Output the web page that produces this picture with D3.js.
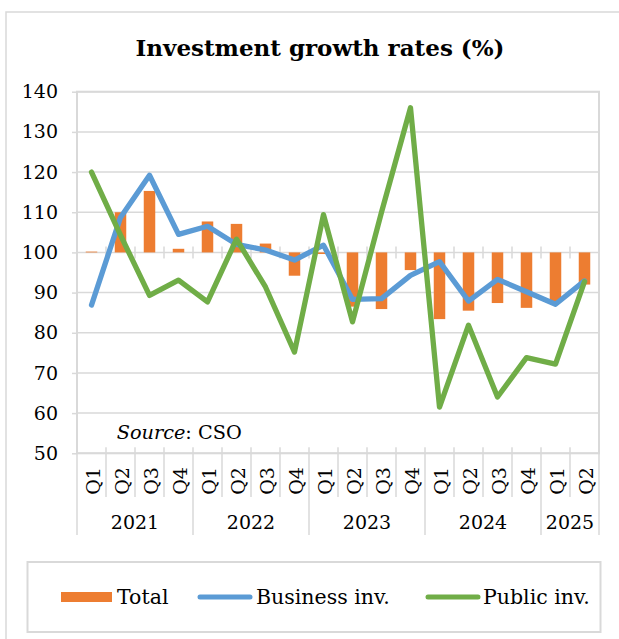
<!DOCTYPE html>
<html>
<head>
<meta charset="utf-8">
<script src="https://cdn.jsdelivr.net/npm/d3@7"></script>
<style>
  html, body { margin: 0; padding: 0; background: #fff; }
  svg { display: block; }
  text { font-family: "DejaVu Serif", serif; fill: #000; }
</style>
</head>
<body>
<div id="chart"></div>
<script>
// Quarterly investment growth rates, index form (previous year = 100)
const quarters = ["Q1","Q2","Q3","Q4","Q1","Q2","Q3","Q4","Q1","Q2","Q3","Q4","Q1","Q2","Q3","Q4","Q1","Q2"];
const years = ["2021","2021","2021","2021","2022","2022","2022","2022","2023","2023","2023","2023","2024","2024","2024","2024","2025","2025"];
const total    = [100.2, 110.0, 115.3, 100.9, 107.7, 107.1, 102.2, 94.2, 99.6, 86.5, 85.9, 95.6, 83.4, 85.5, 87.4, 86.2, 87.6, 92.0];
const business = [86.9, 108.7, 119.2, 104.5, 106.5, 102.0, 100.6, 98.1, 101.8, 88.3, 88.5, 94.3, 97.7, 87.9, 93.3, 90.2, 87.1, 92.9];
const publicInv = [120.0, 104.3, 89.3, 93.1, 87.7, 103.3, 91.4, 75.2, 109.4, 82.7, 110.0, 136.0, 61.5, 81.9, 64.0, 73.8, 72.2, 92.7];
const yTicks = [50, 60, 70, 80, 90, 100, 110, 120, 130, 140];
const seriesNames = ["Total", "Business inv.", "Public inv."];

const W = 619, H = 639;
const colors = { total: "#ED7D31", business: "#5B9BD5", public: "#70AD47" };
const grid = "#d9d9d9";

const svg = d3.select("#chart").append("svg").attr("width", W).attr("height", H);

// outer chart frame (left and top edges)
svg.append("path").attr("d", "M6,639V12H619").attr("fill", "none")
  .attr("stroke", grid).attr("stroke-width", 1.5);

// title
svg.append("text").attr("x", 320).attr("y", 56).attr("text-anchor", "middle")
  .attr("font-weight", "bold").attr("font-size", 23)
  .text("Investment growth rates (%)");

const plot = { left: 77, right: 599, top: 91.7, bottom: 453.3 };
const keys = d3.range(quarters.length);

const x = d3.scaleBand().domain(keys).range([plot.left, plot.right]).padding(0);
const y = d3.scaleLinear().domain([50, 140]).range([plot.bottom, plot.top]);
const cx = i => x(i) + x.bandwidth() / 2;

// horizontal gridlines
svg.append("g").selectAll("line").data(yTicks).join("line")
  .attr("x1", plot.left).attr("x2", plot.right)
  .attr("y1", d => y(d)).attr("y2", d => y(d))
  .attr("stroke", grid).attr("stroke-width", 1.5);

// plot area frame
svg.append("rect").attr("x", plot.left).attr("y", plot.top)
  .attr("width", plot.right - plot.left).attr("height", plot.bottom - plot.top)
  .attr("fill", "none").attr("stroke", grid).attr("stroke-width", 2);

// value axis
const yAxis = svg.append("g").attr("transform", `translate(${plot.left},0)`)
  .call(d3.axisLeft(y).tickValues(yTicks).tickSize(5).tickPadding(14));
yAxis.select(".domain").remove();
yAxis.selectAll(".tick line").attr("stroke", grid).attr("stroke-width", 1.5);
yAxis.selectAll(".tick text").attr("font-size", 19).attr("font-family", "DejaVu Serif").attr("fill", "#000");

// category axis crossing at 100: cross ticks at category boundaries
const bounds = d3.range(quarters.length + 1).map(i => plot.left + i * x.bandwidth());
svg.append("g").selectAll("line").data(bounds.slice(1, -1)).join("line")
  .attr("x1", d => d).attr("x2", d => d)
  .attr("y1", y(100) - 6).attr("y2", y(100) + 6)
  .attr("stroke", grid).attr("stroke-width", 1.5);

// bars from the 100 baseline
const barW = 11.5;
svg.append("g").selectAll("rect").data(total).join("rect")
  .attr("x", (d, i) => cx(i) - barW / 2)
  .attr("width", barW)
  .attr("y", d => y(Math.max(d, 100)))
  .attr("height", d => Math.max(Math.abs(y(d) - y(100)), 0.8))
  .attr("fill", colors.total);

// lines
const line = d3.line().x((d, i) => cx(i)).y(d => y(d));
svg.append("path").datum(business).attr("d", line).attr("fill", "none")
  .attr("stroke", colors.business).attr("stroke-width", 5.3)
  .attr("stroke-linejoin", "round").attr("stroke-linecap", "round");
svg.append("path").datum(publicInv).attr("d", line).attr("fill", "none")
  .attr("stroke", colors.public).attr("stroke-width", 5.3)
  .attr("stroke-linejoin", "round").attr("stroke-linecap", "round");

// source note
const src = svg.append("text").attr("x", 116.7).attr("y", 438.5).attr("font-size", 19.3);
src.append("tspan").attr("font-style", "italic").text("Source");
src.append("tspan").text(": CSO");

// category labels (quarters, rotated) and year groups
const lab = svg.append("g");
lab.selectAll("line.q").data(bounds).join("line")
  .attr("class", "q")
  .attr("x1", d => d).attr("x2", d => d)
  .attr("y1", plot.bottom - 6)
  .attr("y2", (d, i) => (i === quarters.length || i === 0 || years[i] !== years[i - 1]) ? 535 : 497)
  .attr("stroke", grid).attr("stroke-width", 1.5);

lab.selectAll("text.q").data(quarters).join("text")
  .attr("class", "q")
  .attr("transform", (d, i) => `translate(${cx(i) + 1},481) rotate(-90)`)
  .attr("text-anchor", "middle").attr("dominant-baseline", "central")
  .attr("font-size", 19).text(d => d);

const yearGroups = d3.groups(keys, i => years[i]);
lab.selectAll("text.y").data(yearGroups).join("text")
  .attr("class", "y")
  .attr("x", d => (x(d[1][0]) + x(d[1][d[1].length - 1]) + x.bandwidth()) / 2)
  .attr("y", 529).attr("text-anchor", "middle").attr("font-size", 19)
  .text(d => d[0]);

// legend
const lg = svg.append("g");
lg.append("rect").attr("x", 27.5).attr("y", 562).attr("width", 573).attr("height", 70)
  .attr("fill", "#fff").attr("stroke", grid).attr("stroke-width", 2);
const items = [
  { name: seriesNames[0], key: "total", sx: 61, ex: 112, tx: 117 },
  { name: seriesNames[1], key: "business", sx: 200, ex: 250, tx: 256 },
  { name: seriesNames[2], key: "public", sx: 428, ex: 478, tx: 483 }
];
items.forEach(it => {
  if (it.key === "total") {
    lg.append("rect").attr("x", it.sx).attr("y", 592).attr("width", it.ex - it.sx).attr("height", 10)
      .attr("fill", colors.total);
  } else {
    lg.append("line").attr("x1", it.sx).attr("x2", it.ex).attr("y1", 597).attr("y2", 597)
      .attr("stroke", colors[it.key]).attr("stroke-width", 5).attr("stroke-linecap", "round");
  }
  lg.append("text").attr("x", it.tx).attr("y", 604).attr("font-size", 20.5).text(it.name);
});
</script>
</body>
</html>
